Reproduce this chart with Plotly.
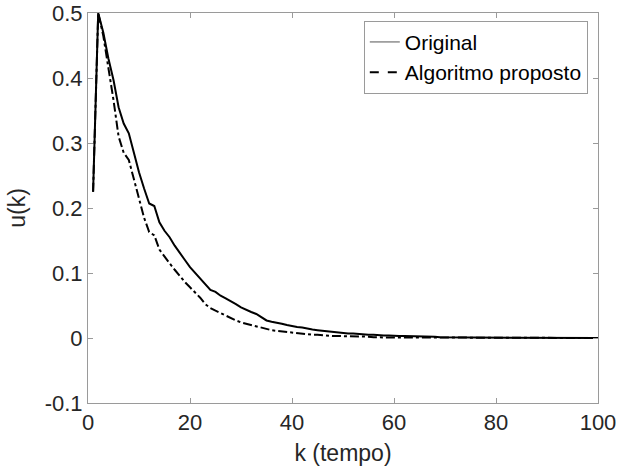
import plotly.graph_objects as go

k = list(range(1, 101))

original = [
    0.225, 0.500, 0.470, 0.430, 0.397, 0.355, 0.330, 0.315, 0.285, 0.255,
    0.230, 0.207, 0.203, 0.178, 0.165, 0.155, 0.142, 0.130, 0.120, 0.109,
    0.100, 0.092, 0.082, 0.074, 0.071, 0.065, 0.061, 0.057, 0.052, 0.047,
    0.043, 0.040, 0.037, 0.032, 0.027, 0.025, 0.024, 0.022, 0.020, 0.018,
    0.017, 0.016, 0.014, 0.013, 0.012, 0.011, 0.010, 0.009, 0.008, 0.008,
    0.007, 0.007, 0.006, 0.006, 0.005, 0.005, 0.004, 0.004, 0.004, 0.003,
    0.003, 0.003, 0.003, 0.002, 0.002, 0.002, 0.002, 0.002, 0.001, 0.001,
    0.001, 0.001, 0.001, 0.001, 0.001, 0.001, 0.0008, 0.0007, 0.0006, 0.0005,
    0.0005, 0.0004, 0.0004, 0.0003, 0.0003, 0.0003, 0.0002, 0.0002, 0.0002, 0.0002,
    0.0001, 0.0001, 0.0001, 0.0001, 0.0001, 0.0001, 0.0001, 0.0001, 0.0000, 0.0000,
]

proposto = [
    0.225, 0.500, 0.465, 0.418, 0.366, 0.310, 0.285, 0.274, 0.245, 0.215,
    0.185, 0.163, 0.158, 0.136, 0.125, 0.115, 0.105, 0.095, 0.086, 0.078,
    0.070, 0.062, 0.052, 0.046, 0.042, 0.038, 0.034, 0.030, 0.027, 0.024,
    0.022, 0.020, 0.018, 0.015, 0.013, 0.012, 0.011, 0.010, 0.009, 0.008,
    0.007, 0.007, 0.006, 0.005, 0.005, 0.004, 0.004, 0.003, 0.003, 0.003,
    0.002, 0.002, 0.002, 0.002, 0.002, 0.001, 0.001, 0.001, 0.001, 0.001,
    0.001, 0.0008, 0.0007, 0.0006, 0.0005, 0.0005, 0.0004, 0.0004, 0.0003, 0.0003,
    0.0003, 0.0002, 0.0002, 0.0002, 0.0002, 0.0001, 0.0001, 0.0001, 0.0001, 0.0001,
    0.0001, 0.0001, 0.0001, 0.0000, 0.0000, 0.0000, 0.0000, 0.0000, 0.0000, 0.0000,
    0.0000, 0.0000, 0.0000, 0.0000, 0.0000, 0.0000, 0.0000, 0.0000, 0.0000, 0.0000,
]

x_ticks = [0, 20, 40, 60, 80, 100]
x_tick_labels = ["0", "20", "40", "60", "80", "100"]
y_ticks = [-0.1, 0, 0.1, 0.2, 0.3, 0.4, 0.5]
y_tick_labels = ["-0.1", "0", "0.1", "0.2", "0.3", "0.4", "0.5"]

FONT = "Liberation Sans, Arial, sans-serif"
TXT = "#262626"
AX = "#9a9a9a"

fig = go.Figure()
fig.add_trace(go.Scatter(x=k, y=original, mode="lines", showlegend=False,
                         line=dict(color="black", width=2)))
fig.add_trace(go.Scatter(x=k, y=proposto, mode="lines", showlegend=False,
                         line=dict(color="black", width=2, dash="dashdot")))
# legend entries
fig.add_trace(go.Scatter(x=[None], y=[None], mode="lines", name="Original",
                         line=dict(color="#555555", width=1)))
fig.add_trace(go.Scatter(x=[None], y=[None], mode="lines", name="Algoritmo proposto",
                         line=dict(color="black", width=2, dash="dash")))

axis_common = dict(showline=True, linecolor=AX, linewidth=1, mirror="ticks",
                   ticks="inside", ticklen=5, tickcolor=AX, showgrid=False,
                   zeroline=False, automargin=False,
                   tickfont=dict(family=FONT, size=22, color=TXT))

fig.update_layout(
    width=618, height=471,
    margin=dict(l=88, r=20, t=13, b=68),
    paper_bgcolor="white", plot_bgcolor="white",
    font=dict(family=FONT, color=TXT),
    xaxis=dict(range=[0, 100], tickvals=x_ticks, ticktext=x_tick_labels,
               title=dict(text="k (tempo)", font=dict(family=FONT, size=23, color=TXT), standoff=10),
               **axis_common),
    yaxis=dict(range=[-0.1, 0.5], tickvals=y_ticks, ticktext=y_tick_labels,
               title=dict(text="u(k)", font=dict(family=FONT, size=23, color=TXT), standoff=12),
               **axis_common),
    legend=dict(x=0.98, y=0.98, xanchor="right", yanchor="top",
                bordercolor=AX, borderwidth=1, bgcolor="white",
                font=dict(family=FONT, size=21, color="black"),
                tracegroupgap=0, itemwidth=30),
)

fig.write_html("out.html")
